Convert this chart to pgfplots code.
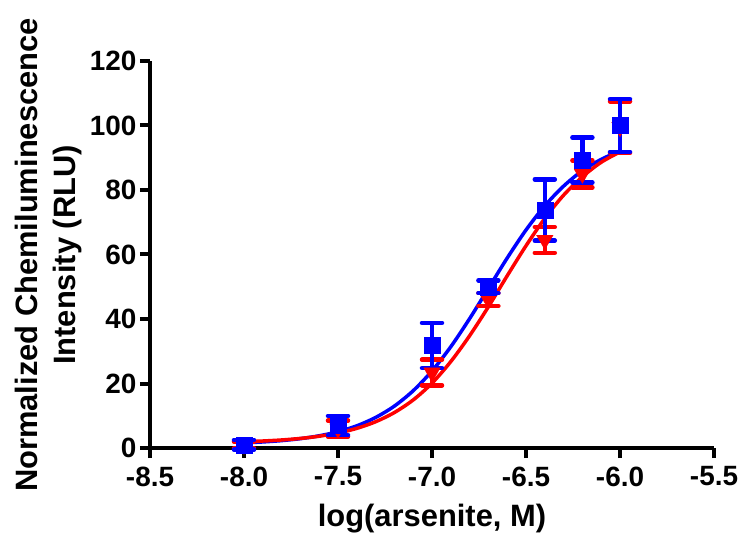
\documentclass[border=0pt]{standalone}
\usepackage{pgfplots}
\pgfplotsset{compat=1.18}
\usepackage{fontspec}
\setmainfont{Liberation Sans}
\begin{document}
\begin{tikzpicture}
\begin{axis}[
  scale only axis, width=564bp, height=387bp,
  at={(0,0)}, anchor=south west,
  xmin=-8.5, xmax=-5.5, ymin=0, ymax=120,
  xtick={-8.5,-8.0,-7.5,-7.0,-6.5,-6.0,-5.5},
  ytick={0,20,40,60,80,100,120},
  axis x line*=bottom, axis y line*=left,
  axis line style={line width=4bp, -, black},
  tick align=outside, major tick length=10bp,
  major tick style={line width=4bp, black},
  /pgf/number format/assume math mode=true,
  tick label style={font=\bfseries\fontsize{28}{32}\selectfont},
  x tick label style={yshift=-5bp, /pgf/number format/.cd, fixed, fixed zerofill, precision=1},
  y tick label style={/pgf/number format/.cd, fixed, precision=0},
  xlabel={log(arsenite, M)},
  xlabel style={at={(axis description cs:0.5,-0.2041)}, anchor=base,
    font=\bfseries\fontsize{31}{38}\selectfont},
  ylabel={Normalized Chemiluminescence\\Intensity (RLU)},
  ylabel style={at={(axis description cs:-0.1206,0.4987)}, anchor=south,
    align=center, inner sep=0pt, font=\bfseries\fontsize{31}{38}\selectfont},
  clip=false,
]
% fitted curves
\addplot[blue, line width=3.5bp, smooth, no marks] coordinates {
(-8.0,1.59) (-7.9,1.88) (-7.8,2.29) (-7.7,2.90) (-7.6,3.78) (-7.5,5.06)
(-7.4,6.88) (-7.3,9.46) (-7.2,13.0) (-7.1,17.76) (-7.0,23.9) (-6.9,31.4)
(-6.8,40.1) (-6.7,49.5) (-6.6,58.9) (-6.5,67.6) (-6.4,75.1) (-6.3,81.2)
(-6.2,86.0) (-6.1,89.5) (-6.0,92.1)};
\addplot[red, line width=3.5bp, smooth, no marks] coordinates {
(-8.0,1.96) (-7.9,2.17) (-7.8,2.49) (-7.7,2.97) (-7.6,3.65) (-7.5,4.65)
(-7.4,6.09) (-7.3,8.14) (-7.2,11.0) (-7.1,14.9) (-7.0,20.1) (-6.9,26.8)
(-6.8,34.8) (-6.7,43.8) (-6.6,53.4) (-6.5,62.7) (-6.4,71.2) (-6.3,78.4)
(-6.2,84.1) (-6.1,88.6) (-6.0,91.8)};
% data points
\addplot[only marks, red, mark=triangle*, mark size=9.5bp, mark options={rotate=180, red},
  error bars/.cd, y dir=both, y explicit,
  error bar style={line width=4.5bp, red},
  error mark=|, error mark options={red, line width=4.5bp, mark size=10bp, line cap=round}]
  table[x=x, y=y, y error=e] {
x y e
-8.0 1.0 1.0
-7.5 6.0 2.5
-7.0 23.4 4.0
-6.7 46.0 2.0
-6.4 64.5 4.0
-6.2 85.0 4.2
-6.0 99.5 8.0
};
\addplot[only marks, blue, mark=square*, mark size=8bp, mark options={blue},
  error bars/.cd, y dir=both, y explicit,
  error bar style={line width=4.5bp, blue},
  error mark=|, error mark options={blue, line width=4.5bp, mark size=10bp, line cap=round}]
  table[x=x, y=y, y error=e] {
x y e
-8.0 1.0 1.5
-7.5 7.0 3.0
-7.0 31.8 7.0
-6.7 50.0 2.0
-6.4 73.8 9.5
-6.2 89.3 7.0
-6.0 100.0 8.2
};
\end{axis}
\pgfresetboundingbox
\useasboundingbox (-150bp,-87bp) rectangle (596bp,448bp);
\end{tikzpicture}
\end{document}
